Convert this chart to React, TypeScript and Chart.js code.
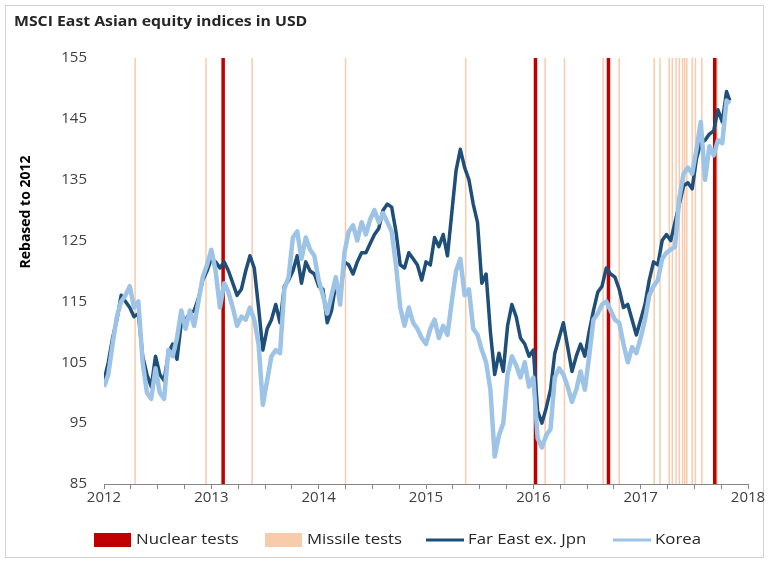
import React, { useEffect, useRef } from 'react';
import { Chart, registerables } from 'chart.js';

Chart.register(...registerables);

// Sample dates (decimal years)
const DATES = [
  2012.00, 2012.04, 2012.08, 2012.12, 2012.16, 2012.20, 2012.24, 2012.28, 2012.32, 2012.36,
  2012.40, 2012.44, 2012.48, 2012.52, 2012.56, 2012.60, 2012.64, 2012.68, 2012.72, 2012.76,
  2012.80, 2012.84, 2012.88, 2012.92, 2012.96, 2013.00, 2013.04, 2013.08, 2013.12, 2013.16,
  2013.20, 2013.24, 2013.28, 2013.32, 2013.36, 2013.40, 2013.44, 2013.48, 2013.52, 2013.56,
  2013.60, 2013.64, 2013.68, 2013.72, 2013.76, 2013.80, 2013.84, 2013.88, 2013.92, 2013.96,
  2014.00, 2014.04, 2014.08, 2014.12, 2014.16, 2014.20, 2014.24, 2014.28, 2014.32, 2014.36,
  2014.40, 2014.44, 2014.48, 2014.52, 2014.56, 2014.60, 2014.64, 2014.68, 2014.72, 2014.76,
  2014.80, 2014.84, 2014.88, 2014.92, 2014.96, 2015.00, 2015.04, 2015.08, 2015.12, 2015.16,
  2015.20, 2015.24, 2015.28, 2015.32, 2015.36, 2015.40, 2015.44, 2015.48, 2015.52, 2015.56,
  2015.60, 2015.64, 2015.68, 2015.72, 2015.76, 2015.80, 2015.84, 2015.88, 2015.92, 2015.96,
  2016.00, 2016.04, 2016.08, 2016.12, 2016.16, 2016.20, 2016.24, 2016.28, 2016.32, 2016.36,
  2016.40, 2016.44, 2016.48, 2016.52, 2016.56, 2016.60, 2016.64, 2016.68, 2016.72, 2016.76,
  2016.80, 2016.84, 2016.88, 2016.92, 2016.96, 2017.00, 2017.04, 2017.08, 2017.12, 2017.16,
  2017.20, 2017.24, 2017.28, 2017.32, 2017.36, 2017.40, 2017.44, 2017.48, 2017.52, 2017.56,
  2017.60, 2017.64, 2017.68, 2017.72, 2017.76, 2017.80, 2017.83,
];

const FAR_EAST = [
  102, 105, 109, 112, 116, 115, 114, 112.5, 113, 106,
  103, 101, 106, 103, 102, 106.5, 108, 105.5, 111.5, 112,
  113, 113.5, 115.5, 118.5, 120, 122, 121.5, 120.5, 121.5, 120,
  118, 116, 117, 120, 122.5, 120.5, 114, 107, 110.5, 112,
  114.5, 111.5, 117.5, 118.5, 120, 122.5, 118, 121.5, 120, 119.5,
  117.5, 117, 111.5, 113.5, 118, 116, 121.5, 121, 119.5, 121.5,
  123, 123, 124.5, 126, 127, 130, 131, 130.5, 126.5, 121,
  120.5, 123, 122, 121, 118.5, 121.5, 121, 125.5, 124, 126,
  122.5, 129.5, 136.5, 140, 137, 135, 131, 128, 118, 119.5,
  110, 103, 106.5, 103.5, 111, 114.5, 112.5, 109, 108, 106,
  107, 97, 95, 97.5, 100.5, 106.5, 109, 111.5, 107.5, 103.5,
  106, 108, 106, 110, 113.5, 116.5, 117.5, 120.5, 119.5, 119,
  117, 114, 114.5, 112, 109.5, 112, 114.5, 118.5, 121.5, 121,
  125, 126, 125, 128, 131, 134, 134.5, 133.5, 138.5, 141,
  141.5, 142.5, 143, 146.5, 144.5, 149.5, 148,
];

const KOREA = [
  101, 103, 108, 112.5, 115, 116, 117.5, 114, 115, 105,
  100, 99, 104, 100, 99, 107, 106, 109, 113.5, 110.5,
  113.5, 111, 115, 119, 121, 123.5, 120, 114, 118, 116.5,
  114, 111, 112.5, 112, 114, 112, 108, 98, 102, 106,
  107, 106.5, 117, 119, 125.5, 126.5, 122, 125.5, 123.5, 122.5,
  118.5, 116, 113, 116, 119, 114.5, 123, 126.5, 127.5, 125,
  128, 126, 128.5, 130, 128, 129.5, 128, 126.5, 121, 114,
  111, 114, 111.5, 110.5, 109, 108, 110.5, 112, 109, 111,
  109.5, 115, 120, 122, 116, 117, 110.5, 109.5, 107, 105,
  100.5, 89.5, 93, 95, 103, 106, 104.5, 102.5, 105, 101,
  102.5, 92.5, 91, 93, 94, 102.5, 104, 103, 101, 98.5,
  100.5, 103.5, 100.5, 106, 112, 113, 114.5, 115, 113.5, 112,
  111.5, 108, 105, 107.5, 106.5, 109, 112, 116, 117.5, 118.5,
  122, 123, 123.5, 124, 132, 136, 137, 136, 140, 144.5,
  135, 140.5, 139, 141.5, 141, 148, 147.5,
];

const NUCLEAR_TESTS = [2013.11, 2016.02, 2016.70, 2017.69];

const MISSILE_TESTS = [
  2012.29, 2012.95, 2013.38, 2014.25, 2015.37, 2016.11, 2016.29, 2016.65, 2016.80,
  2017.126, 2017.18, 2017.266, 2017.295, 2017.33, 2017.36, 2017.39, 2017.41, 2017.43,
  2017.48, 2017.51, 2017.57, 2017.71,
];

const X_MIN = 2012;
const X_MAX = 2018;
const Y_MIN = 85;
const Y_MAX = 155;
const Y_STEP = 10;

const TITLE = 'MSCI East Asian equity indices in USD';
const Y_TITLE = 'Rebased to 2012';
const LEGEND_LABELS = ['Nuclear tests', 'Missile tests', 'Far East ex. Jpn', 'Korea'];

const FONT = '"Open Sans", "DejaVu Sans", sans-serif';

const C_NUCLEAR = '#c00000';
const C_MISSILE = '#f8cbad';
const C_FAREAST = '#1f4e79';
const C_KOREA = '#9dc3e6';

function eventSegments(dates: number[]) {
  const pts: { x: number; y: number | null }[] = [];
  dates.forEach((d) => {
    pts.push({ x: d, y: Y_MIN }, { x: d, y: Y_MAX }, { x: d, y: null });
  });
  return pts;
}

function stretchedText(ctx: CanvasRenderingContext2D, text: string, x: number, y: number, sx: number) {
  ctx.save();
  ctx.translate(x, y);
  ctx.scale(sx, 1);
  ctx.fillText(text, 0, 0);
  ctx.restore();
}

const decorPlugin = {
  id: 'decor',
  beforeDraw(chart: any) {
    const ctx = chart.ctx;
    ctx.save();
    ctx.fillStyle = '#ffffff';
    ctx.fillRect(0, 0, chart.width, chart.height);
    ctx.strokeStyle = '#d4d4d4';
    ctx.lineWidth = 1;
    ctx.strokeRect(5.5, 5.5, chart.width - 11, chart.height - 11);
    ctx.restore();
  },
  afterDraw(chart: any) {
    const ctx = chart.ctx;
    ctx.save();
    // Title
    ctx.fillStyle = '#262626';
    ctx.font = `bold 13.5px ${FONT}`;
    ctx.textAlign = 'left';
    ctx.textBaseline = 'middle';
    stretchedText(ctx, TITLE, 14, 22, 1.17);
    // Y-axis title
    ctx.save();
    ctx.translate(26, 212);
    ctx.rotate(-Math.PI / 2);
    ctx.textAlign = 'center';
    ctx.font = `bold 14px ${FONT}`;
    ctx.fillStyle = '#000000';
    ctx.fillText(Y_TITLE, 0, 0);
    ctx.restore();
    // Legend
    const ly = 540;
    ctx.font = `14px ${FONT}`;
    ctx.textAlign = 'left';
    const items = [
      { kind: 'box', color: C_NUCLEAR, x: 94, text: LEGEND_LABELS[0] },
      { kind: 'box', color: C_MISSILE, x: 265, text: LEGEND_LABELS[1] },
      { kind: 'line', color: C_FAREAST, x: 426, text: LEGEND_LABELS[2] },
      { kind: 'line', color: C_KOREA, x: 613, text: LEGEND_LABELS[3] },
    ];
    items.forEach((it) => {
      if (it.kind === 'box') {
        ctx.fillStyle = it.color;
        ctx.fillRect(it.x, ly - 7, 37, 14);
      } else {
        ctx.strokeStyle = it.color;
        ctx.lineWidth = 3;
        ctx.beginPath();
        ctx.moveTo(it.x, ly);
        ctx.lineTo(it.x + 38, ly);
        ctx.stroke();
      }
      ctx.fillStyle = '#262626';
      stretchedText(ctx, it.text, it.x + 42, ly, 1.2);
    });
    ctx.restore();
  },
};

export default function App() {
  const canvasRef = useRef<HTMLCanvasElement | null>(null);

  useEffect(() => {
    const canvas = canvasRef.current;
    if (!canvas) return;
    const chart = new Chart(canvas, {
      type: 'line',
      data: {
        datasets: [
          {
            label: 'Korea',
            data: DATES.map((d, i) => ({ x: d, y: KOREA[i] })),
            borderColor: C_KOREA,
            borderWidth: 4.5,
            pointRadius: 0,
            tension: 0,
            borderJoinStyle: 'round',
          },
          {
            label: 'Far East ex. Jpn',
            data: DATES.map((d, i) => ({ x: d, y: FAR_EAST[i] })),
            borderColor: C_FAREAST,
            borderWidth: 3.5,
            pointRadius: 0,
            tension: 0,
            borderJoinStyle: 'round',
          },
          {
            label: 'Nuclear tests',
            data: eventSegments(NUCLEAR_TESTS),
            borderColor: C_NUCLEAR,
            borderWidth: 3.5,
            pointRadius: 0,
            spanGaps: false,
          },
          {
            label: 'Missile tests',
            data: eventSegments(MISSILE_TESTS),
            borderColor: C_MISSILE,
            borderWidth: 1.5,
            pointRadius: 0,
            spanGaps: false,
          },
        ] as any,
      },
      options: {
        animation: false,
        responsive: false,
        devicePixelRatio: 1,
        layout: { padding: { top: 58, right: 21, bottom: 0, left: 0 } },
        plugins: {
          legend: { display: false },
          tooltip: { enabled: false },
          title: { display: false },
        },
        scales: {
          x: {
            type: 'linear',
            min: X_MIN,
            max: X_MAX,
            afterFit: (scale: any) => {
              scale.height = 79;
            },
            grid: {
              display: true,
              drawOnChartArea: false,
              drawTicks: true,
              tickLength: 5,
              tickColor: '#868686',
            },
            border: { display: true, color: '#868686', width: 1 },
            ticks: {
              stepSize: 0.25,
              autoSkip: false,
              maxRotation: 0,
              padding: 0,
              color: '#404040',
              font: { family: FONT, size: 15 },
              callback: (v: any) => {
                const n = Number(v);
                return Math.abs(n - Math.round(n)) < 1e-6 ? String(Math.round(n)) : '';
              },
            },
          },
          y: {
            type: 'linear',
            min: Y_MIN,
            max: Y_MAX,
            afterFit: (scale: any) => {
              scale.width = 104;
            },
            grid: { display: false, drawTicks: false },
            border: { display: false },
            ticks: {
              stepSize: Y_STEP,
              padding: 17,
              color: '#404040',
              font: { family: FONT, size: 15 },
            },
          },
        },
      } as any,
      plugins: [decorPlugin],
    });
    return () => chart.destroy();
  }, []);

  return (
    <div style={{ position: 'fixed', left: 0, top: 0, width: 769, height: 563, background: '#fff' }}>
      <canvas ref={canvasRef} width={769} height={563} style={{ display: 'block', width: 769, height: 563 }} />
    </div>
  );
}
